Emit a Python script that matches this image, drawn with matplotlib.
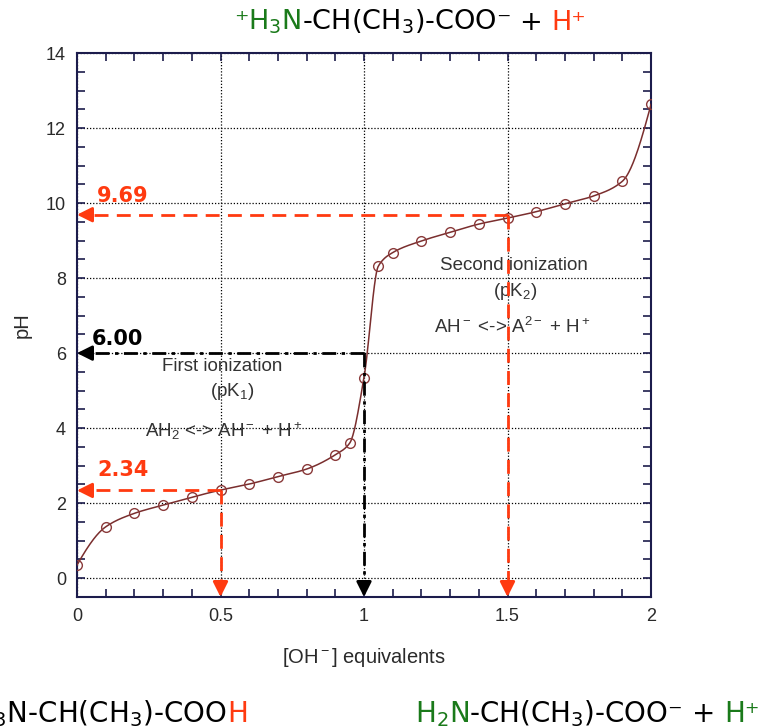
import numpy as np
import matplotlib
matplotlib.use("Agg")
import matplotlib.pyplot as plt
from matplotlib.ticker import MultipleLocator

# titration data
equiv = [0.0, 0.1, 0.2, 0.3, 0.4, 0.5, 0.6, 0.7, 0.8, 0.9, 0.95, 1.0, 1.05,
         1.1, 1.2, 1.3, 1.4, 1.5, 1.6, 1.7, 1.8, 1.9, 2.0]
ph = [0.35, 1.37, 1.73, 1.95, 2.16, 2.35, 2.51, 2.71, 2.91, 3.29, 3.60, 5.35, 8.32,
      8.68, 8.99, 9.22, 9.44, 9.60, 9.77, 9.98, 10.19, 10.58, 12.63]

# marked points: (equivalents, pH, label)
pk_equiv = [0.5, 1.0, 1.5]
pk_ph = [2.34, 6.00, 9.69]
pk_labels = ["2.34", "6.00", "9.69"]

RED = "#ff3a10"
GREEN = "#1a7a1a"
NAVY = "#1c1c4c"
CURVE = "#7a2e2e"


def pchip(x, y, xs):
    # monotone cubic through the points, only used to draw the smooth line
    x = np.asarray(x, float)
    y = np.asarray(y, float)
    h = np.diff(x)
    d = np.diff(y) / h
    n = len(x)
    m = np.zeros(n)
    for k in range(1, n - 1):
        if d[k - 1] * d[k] > 0:
            w1 = 2 * h[k] + h[k - 1]
            w2 = h[k] + 2 * h[k - 1]
            m[k] = (w1 + w2) / (w1 / d[k - 1] + w2 / d[k])

    def end(h0, h1, d0, d1):
        v = ((2 * h0 + h1) * d0 - h0 * d1) / (h0 + h1)
        if np.sign(v) != np.sign(d0):
            v = 0.0
        elif np.sign(d0) != np.sign(d1) and abs(v) > abs(3 * d0):
            v = 3 * d0
        return v

    m[0] = end(h[0], h[1], d[0], d[1])
    m[-1] = end(h[-1], h[-2], d[-1], d[-2])
    idx = np.clip(np.searchsorted(x, xs) - 1, 0, n - 2)
    t = (xs - x[idx]) / h[idx]
    h00 = 2 * t**3 - 3 * t**2 + 1
    h10 = t**3 - 2 * t**2 + t
    h01 = -2 * t**3 + 3 * t**2
    h11 = t**3 - t**2
    return (h00 * y[idx] + h10 * h[idx] * m[idx] + h01 * y[idx + 1]
            + h11 * h[idx] * m[idx + 1])


plt.rcParams["font.family"] = ["Liberation Sans", "DejaVu Sans"]
plt.rcParams["mathtext.fontset"] = "custom"
plt.rcParams["mathtext.rm"] = "Liberation Sans"
plt.rcParams["mathtext.it"] = "Liberation Sans"
plt.rcParams["mathtext.default"] = "regular"

fig = plt.figure(figsize=(7.65, 7.28), dpi=100)
ax = fig.add_axes([77 / 765, 1 - 597 / 728, 574 / 765, 544 / 728])

xs = np.linspace(0, 2, 800)
ax.plot(xs, pchip(equiv, ph, xs), color=CURVE, lw=1.1, zorder=3)
ax.plot(equiv, ph, "o", ms=7, mfc="none", mec="#8a3a3a", mew=1.0, zorder=4)

ax.set_xlim(0, 2)
ax.set_ylim(-0.5, 14)
ax.xaxis.set_minor_locator(MultipleLocator(0.1))
ax.yaxis.set_major_locator(MultipleLocator(2))
ax.yaxis.set_minor_locator(MultipleLocator(0.5))
ax.set_xticks([0, 0.5, 1, 1.5, 2])
ax.set_xticklabels(["0", "0.5", "1", "1.5", "2"])
ax.tick_params(which="both", direction="in", top=True, right=True,
               color=NAVY, width=1.2, labelsize=13, labelcolor="#2a2a2a", pad=8)
ax.tick_params(which="both", length=6)
for s in ax.spines.values():
    s.set_color(NAVY)
    s.set_linewidth(1.5)
ax.grid(True, which="major", color="black", linestyle=(0, (1, 1.5)), lw=0.9)

ax.set_xlabel("[OH$^-$] equivalents", fontsize=14.5, color="#2a2a2a", labelpad=15)
ax.set_ylabel("pH", fontsize=14.5, color="#2a2a2a", labelpad=10)

# dashed guides with arrow heads
styles = [(RED, (0, (5, 3))), ("black", (0, (5, 2, 1.2, 2))), (RED, (0, (5, 3)))]
label_dy = [0.55, 0.38, 0.5]
for xe, ye, lab, (col, ls), dy in zip(pk_equiv, pk_ph, pk_labels, styles, label_dy):
    ax.plot([xe, 0.03], [ye, ye], color=col, lw=2, linestyle=ls, zorder=5)
    ax.plot([xe, xe], [ye, -0.2], color=col, lw=2, linestyle=ls, zorder=5)
    ax.annotate("", xy=(0, ye), xytext=(0.05, ye),
                arrowprops=dict(arrowstyle="-|>,head_length=0.9,head_width=0.45",
                                color=col, lw=2, shrinkA=0, shrinkB=0), zorder=6)
    ax.annotate("", xy=(xe, -0.5), xytext=(xe, -0.1),
                arrowprops=dict(arrowstyle="-|>,head_length=0.9,head_width=0.45",
                                color=col, lw=2, shrinkA=0, shrinkB=0), zorder=6)
    ax.text(0.052 if col == "black" else 0.07, ye + dy, lab, color=col,
            fontsize=15, fontweight="bold", family="DejaVu Sans",
            ha="left", va="center", zorder=6)

tc = "#333333"
ax.text(0.505, 5.64, "First ionization", ha="center", va="center", fontsize=13.5, color=tc)
ax.text(0.54, 4.98, "(pK$_1$)", ha="center", va="center", fontsize=13.5, color=tc)
ax.text(0.512, 3.93, "AH$_2$ <-> AH$^-$ + H$^+$", ha="center", va="center",
        fontsize=13.5, color=tc)
ax.text(1.523, 8.34, "Second ionization", ha="center", va="center", fontsize=13.5, color=tc)
ax.text(1.526, 7.65, "(pK$_2$)", ha="center", va="center", fontsize=13.5, color=tc)
ax.text(1.516, 6.71, "AH$^-$ <-> A$^{2-}$ + H$^+$", ha="center", va="center",
        fontsize=13.5, color=tc)


def colored_line(x_px, y_px, parts, align="center", size=19):
    # parts: (text, colour, gap in pixels after it)
    r = fig.canvas.get_renderer()
    texts = [fig.text(0, 1 - y_px / 728, s, color=c, ha="left", va="baseline",
                      fontsize=size, family="DejaVu Sans") for s, c, g in parts]
    widths = [t.get_window_extent(r).width + g for t, (s, c, g) in zip(texts, parts)]
    total = sum(widths)
    if align == "center":
        start = x_px - total / 2
    elif align == "right":
        start = x_px - total
    else:
        start = x_px
    for t, w in zip(texts, widths):
        t.set_x(start / 765)
        start += w


colored_line(410, 30, [("⁺H$_3$N", GREEN, 0), ("-CH(CH$_3$)-COO⁻", "black", 9),
                       ("+", "black", 9), ("H⁺", RED, 0)], size=19.5)
colored_line(248, 722, [("⁺H$_3$N-CH(CH$_3$)-COO", "black", 0), ("H", RED, 0)],
             align="right", size=20)
colored_line(415, 722, [("H$_2$N", GREEN, 0), ("-CH(CH$_3$)-COO⁻", "black", 9),
                        ("+", "black", 9), ("H⁺", GREEN, 0)], align="left", size=20)

fig.savefig("out.png", dpi=100)
